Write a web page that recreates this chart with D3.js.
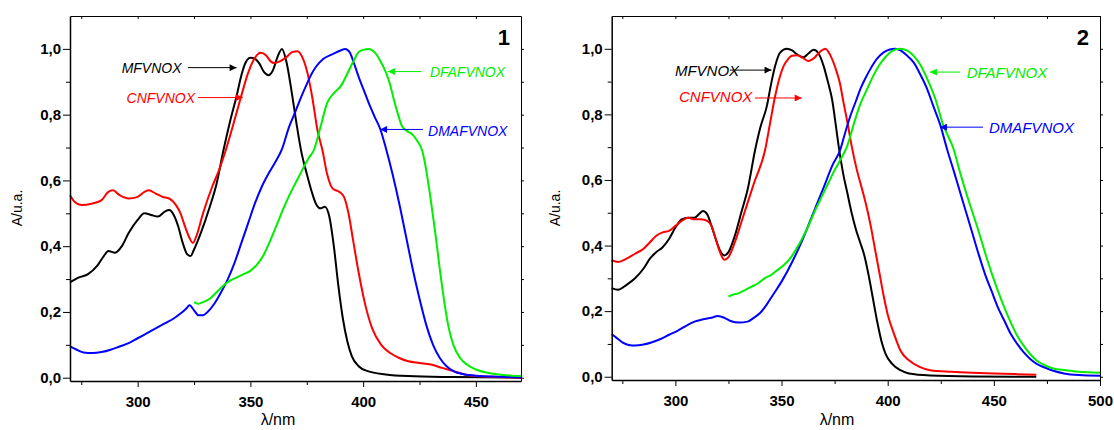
<!DOCTYPE html>
<html>
<head>
<meta charset="utf-8">
<script src="https://cdn.jsdelivr.net/npm/d3@7"></script>
<style>
  html, body { margin: 0; padding: 0; background: #fff; }
  svg { display: block; }
  text { font-family: Arial, "Liberation Sans", sans-serif; }
</style>
</head>
<body>
<svg id="chart" width="1114" height="430"></svg>
<script>
// Absorption spectra, wavelength (nm) vs normalised absorbance
// ---- panel 1 ----
const mfvnox1 = [[270,0.29],[274,0.305],[278,0.315],[282,0.34],[285,0.37],[287,0.385],[290,0.38],[293,0.40],[296,0.44],[300,0.48],[303,0.50],[306,0.495],[309,0.49],[312,0.505],[314,0.51],[316,0.495],[318,0.46],[320,0.41],[322,0.375],[323.5,0.37],[325,0.39],[328,0.44],[332,0.52],[335,0.59],[338,0.69],[341,0.78],[344,0.86],[346,0.92],[348,0.96],[350,0.973],[352,0.97],[354,0.955],[356,0.93],[358,0.92],[360,0.935],[362,0.975],[364,1.0],[366,0.96],[368.5,0.86],[370.5,0.77],[372.5,0.69],[375,0.62],[377,0.57],[379,0.53],[381,0.515],[383,0.52],[385,0.49],[387,0.40],[389,0.28],[391,0.18],[393,0.11],[395,0.065],[398,0.035],[402,0.02],[410,0.01],[420,0.005],[440,0.002],[470,0]];
const cnfvnox1 = [[270,0.555],[272,0.535],[275,0.525],[280,0.53],[284,0.54],[287,0.565],[289,0.57],[292,0.555],[296,0.545],[300,0.55],[303,0.565],[305,0.57],[308,0.56],[311,0.55],[314,0.545],[317,0.525],[319,0.50],[321,0.46],[323,0.425],[324.5,0.41],[326,0.43],[329,0.50],[333,0.58],[336,0.63],[339,0.69],[342,0.76],[345.5,0.846],[349,0.927],[351.5,0.967],[354.5,0.988],[357,0.98],[359,0.962],[360.5,0.957],[363,0.962],[366,0.975],[368.5,0.99],[370.8,0.993],[373,0.975],[375.3,0.927],[377.5,0.85],[379.7,0.754],[382,0.69],[384,0.62],[386.5,0.575],[389.5,0.565],[391.5,0.55],[393.5,0.50],[395.5,0.42],[398,0.32],[401,0.22],[404,0.15],[408,0.10],[412,0.075],[416,0.06],[420,0.05],[425,0.045],[430,0.04],[435,0.03],[440,0.02],[445,0.01],[450,0.005],[460,0.002],[470,0]];
const dmafvnox1 = [[270,0.095],[273,0.085],[276,0.077],[280,0.075],[284,0.078],[288,0.085],[292,0.095],[296,0.105],[300,0.12],[304,0.135],[308,0.15],[312,0.165],[316,0.18],[319,0.195],[321.5,0.21],[323,0.22],[325,0.205],[327,0.19],[329,0.19],[331,0.2],[334,0.225],[337,0.26],[340,0.30],[343,0.35],[346,0.41],[349,0.47],[352,0.53],[355,0.58],[358,0.62],[361,0.655],[364,0.695],[367,0.76],[370,0.81],[372,0.845],[374.5,0.885],[376.6,0.917],[379,0.945],[382.4,0.97],[386.8,0.985],[390,0.995],[392,1.0],[394,0.99],[396,0.955],[398,0.915],[400.2,0.876],[402.5,0.835],[405,0.795],[407.7,0.754],[410,0.70],[413,0.62],[416,0.53],[419,0.43],[422,0.33],[425,0.24],[428,0.16],[431,0.10],[434,0.06],[437,0.035],[440,0.02],[445,0.01],[450,0.006],[460,0.003],[470,0.001]];
const dfafvnox1 = [[325,0.23],[327,0.225],[329,0.23],[332,0.24],[335,0.26],[338,0.28],[341,0.295],[344,0.305],[347,0.315],[350,0.325],[353,0.345],[356,0.375],[359,0.42],[362,0.47],[365,0.52],[368,0.565],[371,0.605],[374,0.645],[376,0.67],[378,0.69],[381,0.76],[384,0.835],[387,0.865],[390,0.886],[393,0.925],[396,0.967],[398,0.99],[400,0.997],[402.5,1.0],[405,0.99],[407.5,0.965],[410,0.93],[412,0.89],[413.6,0.846],[415.5,0.80],[417.3,0.764],[419.5,0.75],[421.8,0.74],[424,0.72],[426.2,0.69],[428,0.63],[430,0.54],[432,0.44],[434,0.33],[436,0.23],[438,0.15],[440,0.10],[443,0.06],[446,0.04],[450,0.025],[455,0.015],[460,0.01],[465,0.007],[470,0.005]];

// ---- panel 2 ----
const mfvnox2 = [[270,0.27],[273,0.265],[277,0.28],[281,0.30],[285,0.33],[288,0.36],[291,0.38],[294,0.395],[297,0.42],[300,0.455],[303,0.48],[306,0.485],[309,0.485],[311,0.495],[313,0.505],[315,0.495],[317,0.46],[319,0.42],[321,0.385],[323,0.37],[325,0.38],[328,0.43],[331,0.50],[334,0.57],[337.6,0.693],[340,0.76],[343.1,0.826],[345,0.89],[347,0.948],[349.4,0.989],[352.5,1.0],[355,0.995],[357.5,0.982],[360.4,0.974],[362.5,0.985],[365.1,0.997],[367.5,0.985],[369.8,0.948],[371.8,0.90],[373.8,0.846],[375.5,0.77],[376.9,0.703],[379,0.62],[381,0.56],[383,0.50],[385,0.45],[387,0.41],[389,0.37],[391,0.31],[393,0.24],[395,0.17],[397,0.11],[399,0.07],[402,0.04],[406,0.02],[410,0.01],[420,0.004],[440,0.001],[470,0]];
const cnfvnox2 = [[270,0.355],[273,0.35],[277,0.36],[281,0.375],[285,0.39],[288,0.41],[291,0.43],[294,0.44],[297,0.445],[300,0.46],[303,0.475],[306,0.485],[309,0.48],[312,0.48],[315,0.475],[317,0.46],[319,0.42],[321,0.38],[323,0.357],[325,0.365],[328,0.41],[331,0.47],[334,0.53],[337,0.59],[342.3,0.693],[344.5,0.77],[347,0.856],[349,0.91],[351,0.948],[353,0.968],[355,0.979],[357.3,0.98],[360,0.972],[362.7,0.963],[365,0.97],[368,0.99],[370.6,1.0],[373,0.98],[375.3,0.943],[377.3,0.9],[379.2,0.836],[381.2,0.77],[383.2,0.698],[385.5,0.63],[388,0.57],[390,0.52],[392,0.46],[394,0.39],[396,0.32],[398,0.25],[400,0.19],[403,0.13],[406,0.08],[410,0.05],[415,0.03],[420,0.02],[430,0.015],[440,0.012],[450,0.01],[460,0.008],[470,0.006]];
const dmafvnox2 = [[270,0.13],[272,0.12],[275,0.105],[278,0.097],[281,0.095],[285,0.098],[289,0.105],[293,0.115],[297,0.128],[301,0.14],[305,0.155],[309,0.168],[313,0.175],[317,0.18],[320,0.185],[323,0.18],[326,0.17],[330,0.165],[334,0.168],[337,0.18],[340,0.195],[343,0.22],[346,0.25],[350,0.29],[355,0.35],[360,0.42],[365,0.50],[370,0.58],[374,0.645],[377.7,0.693],[380,0.745],[382.4,0.795],[385,0.84],[387.1,0.877],[389.5,0.91],[391.8,0.938],[395,0.97],[398.1,0.989],[401,0.998],[403.6,1.0],[406,0.995],[409,0.98],[412.3,0.958],[415.5,0.92],[418.6,0.877],[421.5,0.825],[424.9,0.765],[428,0.693],[431,0.63],[434,0.565],[437,0.50],[440,0.435],[443,0.37],[446,0.31],[449,0.26],[452,0.21],[455,0.17],[458,0.13],[461,0.10],[464,0.075],[467,0.055],[470,0.04],[474,0.028],[478,0.018],[483,0.01],[490,0.005],[500,0.003]];
const dfafvnox2 = [[325,0.245],[327,0.25],[330,0.255],[333,0.265],[336,0.275],[339,0.285],[342,0.30],[345,0.31],[348,0.325],[351,0.34],[354,0.36],[357,0.39],[360,0.425],[363,0.465],[366,0.51],[369,0.55],[372,0.59],[375,0.63],[378,0.665],[381,0.705],[384,0.77],[387,0.83],[390.3,0.877],[393,0.915],[396,0.95],[399,0.975],[402,0.993],[406,1.0],[409,0.995],[412,0.98],[415,0.955],[418.5,0.91],[422.5,0.846],[426,0.77],[431.1,0.693],[434,0.625],[437,0.56],[440,0.50],[443,0.44],[446,0.375],[449,0.315],[452,0.26],[455,0.21],[458,0.165],[461,0.125],[464,0.095],[467,0.07],[470,0.05],[474,0.035],[478,0.025],[484,0.02],[490,0.015],[500,0.012]];

// axis ticks
const yMajorTicks = [0, 0.2, 0.4, 0.6, 0.8, 1.0];
const yMinorTicks = [0.1, 0.3, 0.5, 0.7, 0.9];
const xMajorTicks1 = [300, 350, 400, 450];
const xMinorTicks1 = [275, 325, 375, 425];
const xMajorTicks2 = [300, 350, 400, 450, 500];
const xMinorTicks2 = [275, 325, 375, 425, 475];

const seriesNames = ["MFVNOX", "CNFVNOX", "DMAFVNOX", "DFAFVNOX"];
const seriesColors = ["#000000", "#ff0000", "#0000ff", "#00ee00"];

// annotation label: [text start λ, baseline A, arrow tail λ, arrow head λ, arrow A]
const notes1 = [
  [292.9, 0.927, 322.3, 343.9, 0.943],
  [295.1, 0.836, 326.8, 346.6, 0.852],
  [428.8, 0.735, 426.5, 407.5, 0.755],
  [429.6, 0.915, 425.9, 411.0, 0.931]
];
const notes2 = [
  [299.8, 0.916, 325.7, 345.3, 0.935],
  [301.7, 0.837, 337.5, 359.5, 0.850],
  [447.7, 0.743, 444.9, 424.6, 0.761],
  [437.2, 0.911, 434.0, 419.9, 0.929]
];

const svg = d3.select("#chart");
const defs = svg.append("defs");
seriesColors.forEach((c, i) => {
  defs.append("marker")
    .attr("id", "arrow" + i)
    .attr("viewBox", "0 0 10 10")
    .attr("refX", 10).attr("refY", 5)
    .attr("markerWidth", 9).attr("markerHeight", 7)
    .attr("markerUnits", "userSpaceOnUse")
    .attr("orient", "auto")
    .append("path").attr("d", "M0,0 L10,5 L0,10 Z").attr("fill", c);
});

const fmt = v => d3.format(".1f")(v).replace(".", ",");

function drawPanel(p) {
  const x = d3.scaleLinear().domain(p.xDomain).range([p.left, p.right]);
  const y = d3.scaleLinear().domain([-0.01, 1.1]).range([p.bottom, p.top]);
  const g = svg.append("g");

  // curves
  const line = d3.line().x(d => x(d[0])).y(d => y(d[1])).curve(d3.curveMonotoneX);
  p.series.forEach((s, i) => {
    g.append("path").datum(s)
      .attr("d", line)
      .attr("fill", "none")
      .attr("stroke", seriesColors[i])
      .attr("stroke-width", 2)
      .attr("stroke-linejoin", "round");
  });

  // frame: top and right edges
  g.append("g").attr("transform", `translate(0,${p.top})`)
    .call(d3.axisTop(x).tickValues(p.xMajor.concat(p.xMinor)).tickSize(-3).tickFormat("").tickSizeOuter(0))
    .call(a => a.select(".domain").attr("stroke-width", 1));
  g.append("g").attr("transform", `translate(${p.right},0)`)
    .call(d3.axisRight(y).tickValues(yMajorTicks.concat(yMinorTicks)).tickSize(3).tickFormat("").tickSizeOuter(0))
    .call(a => a.select(".domain").attr("stroke-width", 1));

  // bottom axis
  const bx = g.append("g").attr("transform", `translate(0,${p.bottom})`);
  bx.call(d3.axisBottom(x).tickValues(p.xMajor).tickSize(6).tickFormat(d3.format("d")).tickSizeOuter(0).tickPadding(9));
  bx.append("g").call(d3.axisBottom(x).tickValues(p.xMinor).tickSize(4).tickFormat("").tickSizeOuter(0))
    .select(".domain").remove();
  bx.selectAll("text").attr("font-size", 15).attr("font-weight", "bold").attr("fill", "#000")
    .attr("font-family", "Arial, 'Liberation Sans', sans-serif");
  bx.select(".domain").attr("stroke-width", 1.5);

  // left axis
  const ly = g.append("g").attr("transform", `translate(${p.left},0)`);
  ly.call(d3.axisLeft(y).tickValues(yMajorTicks).tickSize(7).tickFormat(fmt).tickSizeOuter(0).tickPadding(2));
  ly.append("g").call(d3.axisLeft(y).tickValues(yMinorTicks).tickSize(4).tickFormat("").tickSizeOuter(0))
    .select(".domain").remove();
  ly.selectAll("text").attr("font-size", 15).attr("font-weight", "bold").attr("fill", "#000")
    .attr("font-family", "Arial, 'Liberation Sans', sans-serif");
  ly.select(".domain").attr("stroke-width", 1.5);

  // axis titles
  g.append("text").attr("x", p.xTitleX).attr("y", 425)
    .attr("text-anchor", "middle").attr("font-size", 16).text("λ/nm");
  g.append("text")
    .attr("transform", `translate(${p.yTitleX},208) rotate(-90)`)
    .attr("text-anchor", "middle").attr("font-size", 14).text("A/u.a.");

  // panel number
  g.append("text").attr("x", p.right - 11).attr("y", 45)
    .attr("text-anchor", "end").attr("font-size", 22).attr("font-weight", "bold").text(p.label);

  // annotations
  p.notes.forEach((n, i) => {
    g.append("text").attr("x", x(n[0])).attr("y", y(n[1]))
      .attr("font-size", p.noteSize).attr("font-style", "italic")
      .attr("fill", seriesColors[i]).text(seriesNames[i]);
    g.append("line")
      .attr("x1", x(n[2])).attr("x2", x(n[3]))
      .attr("y1", y(n[4])).attr("y2", y(n[4]))
      .attr("stroke", seriesColors[i]).attr("stroke-width", 1)
      .attr("marker-end", `url(#arrow${i})`);
  });
}

drawPanel({
  xDomain: [270, 470], left: 70, right: 521, top: 16, bottom: 381,
  series: [mfvnox1, cnfvnox1, dmafvnox1, dfafvnox1],
  xMajor: xMajorTicks1, xMinor: xMinorTicks1,
  xTitleX: 278, yTitleX: 22, label: "1", notes: notes1, noteSize: 14
});
drawPanel({
  xDomain: [270, 500], left: 611.7, right: 1100, top: 16, bottom: 380,
  series: [mfvnox2, cnfvnox2, dmafvnox2, dfafvnox2],
  xMajor: xMajorTicks2, xMinor: xMinorTicks2,
  xTitleX: 837, yTitleX: 560, label: "2", notes: notes2, noteSize: 15
});
</script>
</body>
</html>
